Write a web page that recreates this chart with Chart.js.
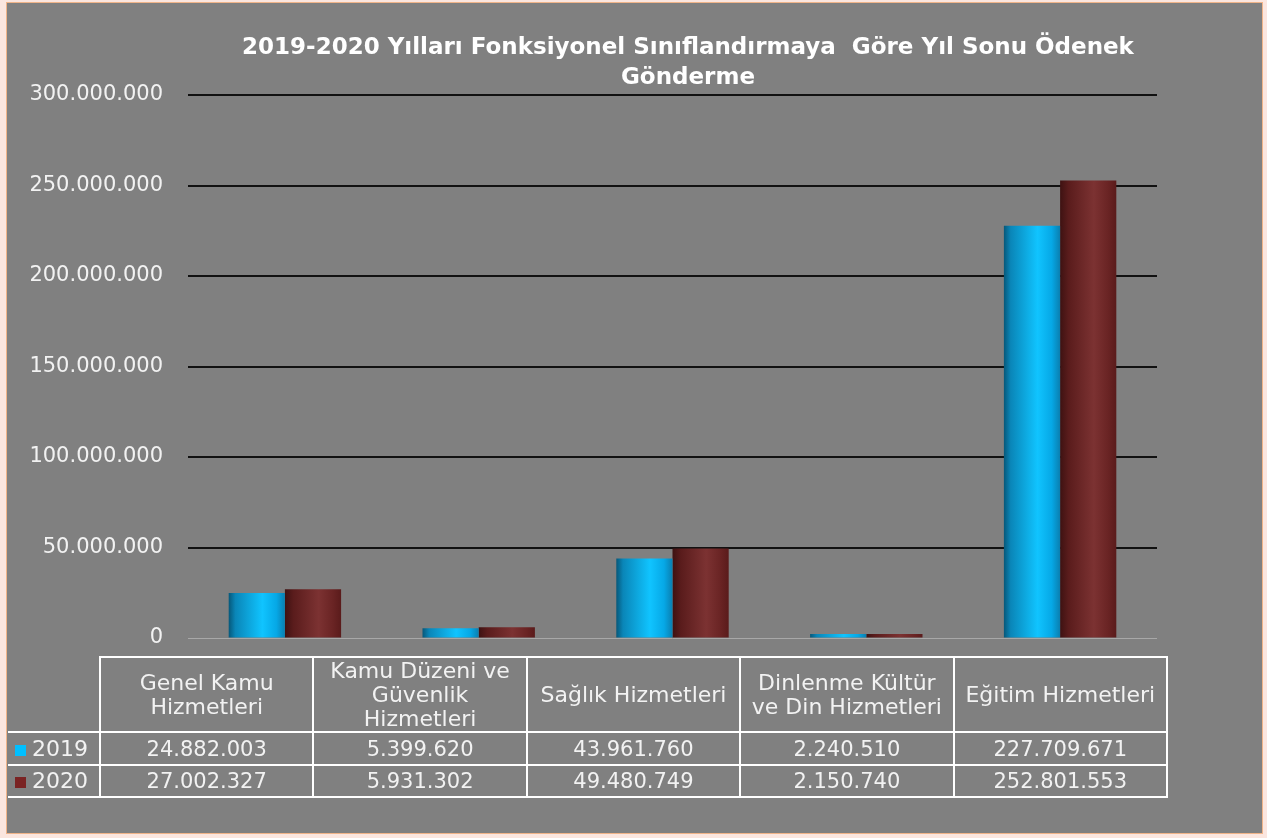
<!DOCTYPE html>
<html>
<head>
<meta charset="utf-8">
<script src="https://cdn.jsdelivr.net/npm/chart.js@4.4.1/dist/chart.umd.min.js"></script>
<style>
  html, body { margin: 0; padding: 0; }
  body { width: 1267px; height: 838px; background: #fbe6df; position: relative; overflow: hidden; }
  #frame { position: absolute; left: 6px; top: 2px; width: 1255px; height: 830px;
           background: #808080; border: 1px solid #f0b489; }
  #chart { position: absolute; left: 0; top: 0; }
  #title { position: absolute; left: 188px; width: 1000px; top: 31px; text-align: center;
           font-family: "DejaVu Sans", sans-serif; font-weight: bold; font-size: 23px;
           line-height: 30px; color: #ffffff; white-space: pre; }
  #tbl { position: absolute; left: 8px; top: 656px; width: 1160px; table-layout: fixed;
         border-collapse: collapse; font-family: "DejaVu Sans", sans-serif; font-size: 21px; color: #f2f2f2; }
  #tbl td { border: 2px solid #ffffff; text-align: center; padding: 0; line-height: 24px; overflow: hidden; }
  #tbl td.hd { font-size: 22px; }
  #tbl td.lg { border-left: none; text-align: left; padding-left: 7px; white-space: nowrap; font-size: 22px; }
  #tbl td.corner { border-left: none; border-top: none; }
  .sw { display: inline-block; width: 11px; height: 11px; margin-right: 6px; }
</style>
</head>
<body>
<div id="frame"></div>
<canvas id="chart" width="1267" height="838"></canvas>
<div id="title"></div>
<table id="tbl"></table>
<script>
// data
var categories = [
  ['Genel Kamu', 'Hizmetleri'],
  ['Kamu Düzeni ve', 'Güvenlik', 'Hizmetleri'],
  ['Sağlık Hizmetleri'],
  ['Dinlenme Kültür', 've Din Hizmetleri'],
  ['Eğitim Hizmetleri']
];
var seriesNames = ['2019', '2020'];
var values2019 = [24882003, 5399620, 43961760, 2240510, 227709671];
var values2020 = [27002327, 5931302, 49480749, 2150740, 252801553];
var seriesColors = ['#00bfff', '#7a2323'];
var titleLines = ['2019-2020 Yılları Fonksiyonel Sınıflandırmaya  Göre Yıl Sonu Ödenek', 'Gönderme'];

function dots(n) {
  return String(Math.round(n)).replace(/\B(?=(\d{3})+(?!\d))/g, '.');
}

// cylinder-ish shading, like the office 3d bars
var gradStops = [
  [[0, '#06587a'], [0.12, '#0a86b8'], [0.6, '#10c4ff'], [0.85, '#06a8e6'], [1, '#0a7fb0']],
  [[0, '#3e1212'], [0.15, '#5a1c1c'], [0.6, '#7c3232'], [0.85, '#6a2424'], [1, '#5a1b1b']]
];

var shadePlugin = {
  id: 'shade',
  beforeDatasetsDraw: function(chart) {
    var ctx = chart.ctx;
    chart.data.datasets.forEach(function(ds, di) {
      var meta = chart.getDatasetMeta(di);
      meta.data.forEach(function(bar) {
        var l = bar.x - bar.width / 2;
        var g = ctx.createLinearGradient(l, 0, l + bar.width, 0);
        gradStops[di].forEach(function(s) { g.addColorStop(s[0], s[1]); });
        bar.options = Object.assign({}, bar.options, { backgroundColor: g });
      });
    });
  }
};

document.getElementById('title').textContent = titleLines.join('\n');

new Chart(document.getElementById('chart'), {
  type: 'bar',
  data: {
    labels: categories.map(function(c) { return c.join(' '); }),
    datasets: [
      { label: seriesNames[0], data: values2019, backgroundColor: seriesColors[0] },
      { label: seriesNames[1], data: values2020, backgroundColor: seriesColors[1] }
    ]
  },
  options: {
    responsive: false,
    animation: false,
    devicePixelRatio: 1,
    layout: { padding: { left: 0, right: 110, top: 95, bottom: 200 } },
    datasets: { bar: { categoryPercentage: 0.58, barPercentage: 1.0, borderWidth: 0 } },
    plugins: {
      legend: { display: false },
      tooltip: { enabled: false },
      title: { display: false }
    },
    scales: {
      x: {
        display: false,
        grid: { display: false }
      },
      y: {
        min: 0,
        max: 300000000,
        afterFit: function(scale) { scale.width = 188; },
        border: { display: false },
        grid: {
          drawTicks: false,
          lineWidth: function(c) { return c.tick && c.tick.value === 0 ? 1 : 2; },
          color: function(c) { return c.tick && c.tick.value === 0 ? '#a8a8a8' : '#111111'; }
        },
        ticks: {
          stepSize: 50000000,
          padding: 25,
          color: '#f2f2f2',
          font: { family: 'DejaVu Sans', size: 21 },
          callback: function(v) { return dots(v); }
        }
      }
    }
  },
  plugins: [shadePlugin]
});

// data table under the plot
var html = '<colgroup><col style="width:92px">';
categories.forEach(function() { html += '<col>'; });
html += '</colgroup><tr style="height:75px"><td class="corner"></td>';
categories.forEach(function(c) {
  html += '<td class="hd">' + c.join('<br>') + '</td>';
});
html += '</tr>';
[values2019, values2020].forEach(function(vals, i) {
  html += '<tr style="height:' + (i === 0 ? 33 : 32) + 'px"><td class="lg"><span class="sw" style="background:' +
    seriesColors[i] + '"></span>' + seriesNames[i] + '</td>';
  vals.forEach(function(v) { html += '<td>' + dots(v) + '</td>'; });
  html += '</tr>';
});
document.getElementById('tbl').innerHTML = html;
</script>
</body>
</html>
